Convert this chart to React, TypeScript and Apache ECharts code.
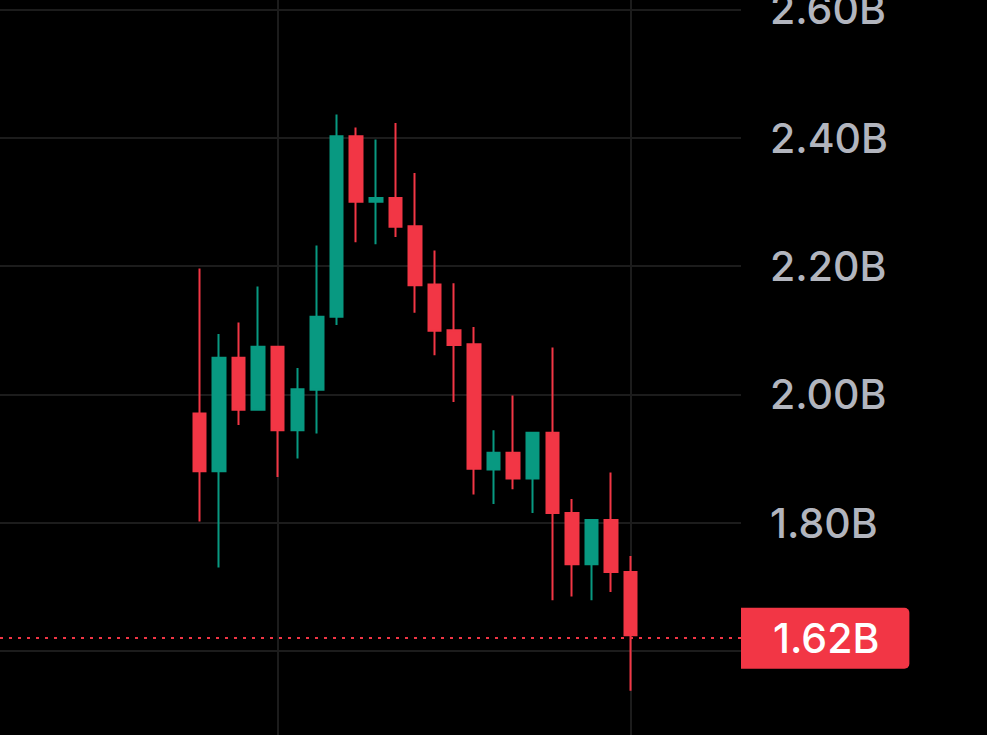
import React, { useEffect, useRef } from "react";
import * as echarts from "echarts";

// Candle data (billions)
const opens = [1.970, 1.880, 2.057, 1.976, 2.074, 1.944, 2.007, 2.121, 2.402, 2.300, 2.306, 2.262, 2.171, 2.100, 2.078, 1.883, 1.909, 1.869, 1.940, 1.815, 1.735, 1.804, 1.723];
const closes = [1.880, 2.057, 1.976, 2.074, 1.944, 2.008, 2.121, 2.402, 2.300, 2.306, 2.261, 2.170, 2.099, 2.077, 1.884, 1.909, 1.869, 1.940, 1.815, 1.735, 1.804, 1.723, 1.6245];
const lows = [1.802, 1.730, 1.952, 1.976, 1.871, 1.900, 1.939, 2.108, 2.237, 2.234, 2.245, 2.127, 2.061, 1.988, 1.844, 1.829, 1.852, 1.815, 1.679, 1.685, 1.679, 1.692, 1.538];
const highs = [2.196, 2.094, 2.112, 2.168, 2.074, 2.041, 2.232, 2.436, 2.416, 2.397, 2.423, 2.345, 2.224, 2.173, 2.105, 1.944, 1.998, 1.940, 2.073, 1.837, 1.804, 1.878, 1.748];
// visible window
const xMin = -10.164;
const xMax = 27.625;
const yMin = 1.4691;
const yMax = 2.6145;
const yStep = 0.2;
// time grid lines every 18 candles, first one at candle index 4
const timeGridStep = 18;
const timeGridFirst = 4;

const UP = "#089981";
const DOWN = "#F23645";
const GRID = "#1c1c1c";
const FONT = "Inter, 'Noto Sans', sans-serif";

export default function App() {
  const ref = useRef<HTMLDivElement>(null);
  useEffect(() => {
    if (!ref.current) return;
    const chart = echarts.init(ref.current, undefined, { renderer: "svg" });
    const data = opens.map((o, i) => [i, o, closes[i], lows[i], highs[i]]);
    const lastClose = closes[closes.length - 1];
    const shift = timeGridStep - timeGridFirst;
    chart.setOption({
      animation: false,
      backgroundColor: "#000000",
      grid: {
        left: 0,
        right: 246,
        top: 0,
        bottom: 0,
        containLabel: false,
        outerBoundsMode: "none",
      },
      xAxis: [
        {
          type: "value",
          min: xMin,
          max: xMax,
          axisLine: { show: false },
          axisTick: { show: false },
          axisLabel: { show: false },
          splitLine: { show: false },
        },
        {
          type: "value",
          min: xMin + shift,
          max: xMax + shift,
          minInterval: timeGridStep,
          maxInterval: timeGridStep,
          axisLine: { show: false },
          axisTick: { show: false },
          axisLabel: { show: false },
          splitLine: {
            show: true,
            showMinLine: false,
            showMaxLine: false,
            lineStyle: { color: GRID, width: 2 },
          },
        },
      ],
      yAxis: {
        type: "value",
        position: "right",
        min: yMin,
        max: yMax,
        splitNumber: 5,
        minInterval: yStep,
        maxInterval: yStep,
        axisLine: { show: false },
        axisTick: { show: false },
        axisLabel: {
          showMinLabel: false,
          showMaxLabel: false,
          margin: 29,
          color: "#B2B5BE",
          fontFamily: FONT,
          fontSize: 41,
          fontWeight: 500,
          formatter: (v: number) => `${v.toFixed(2)}B`,
        },
        splitLine: {
          show: true,
          showMinLine: false,
          showMaxLine: false,
          lineStyle: { color: GRID, width: 2 },
        },
      },
      series: [
        {
          type: "candlestick",
          xAxisIndex: 0,
          data,
          encode: { x: 0, y: [1, 2, 3, 4] },
          barWidth: 13,
          itemStyle: {
            color: UP,
            color0: DOWN,
            borderColor: UP,
            borderColor0: DOWN,
            borderWidth: 2,
          },
          markLine: {
            silent: true,
            symbol: ["none", "none"],
            animation: false,
            data: [
              {
                yAxis: lastClose,
                lineStyle: { color: DOWN, width: 2, type: [3, 6] },
                label: {
                  show: true,
                  position: "end",
                  distance: 0,
                  formatter: (p: any) => `${Number(p.value).toFixed(2)}B`,
                  color: "#ffffff",
                  fontFamily: FONT,
                  fontSize: 41,
                  fontWeight: 500,
                  lineHeight: 41,
                  backgroundColor: DOWN,
                  borderRadius: [0, 5, 5, 0],
                  padding: [10, 30, 10, 32],
                },
              },
            ],
          },
        },
      ],
    });
    return () => chart.dispose();
  }, []);
  return (
    <div
      ref={ref}
      style={{ position: "fixed", left: 0, top: 0, width: 987, height: 735, background: "#000" }}
    />
  );
}
